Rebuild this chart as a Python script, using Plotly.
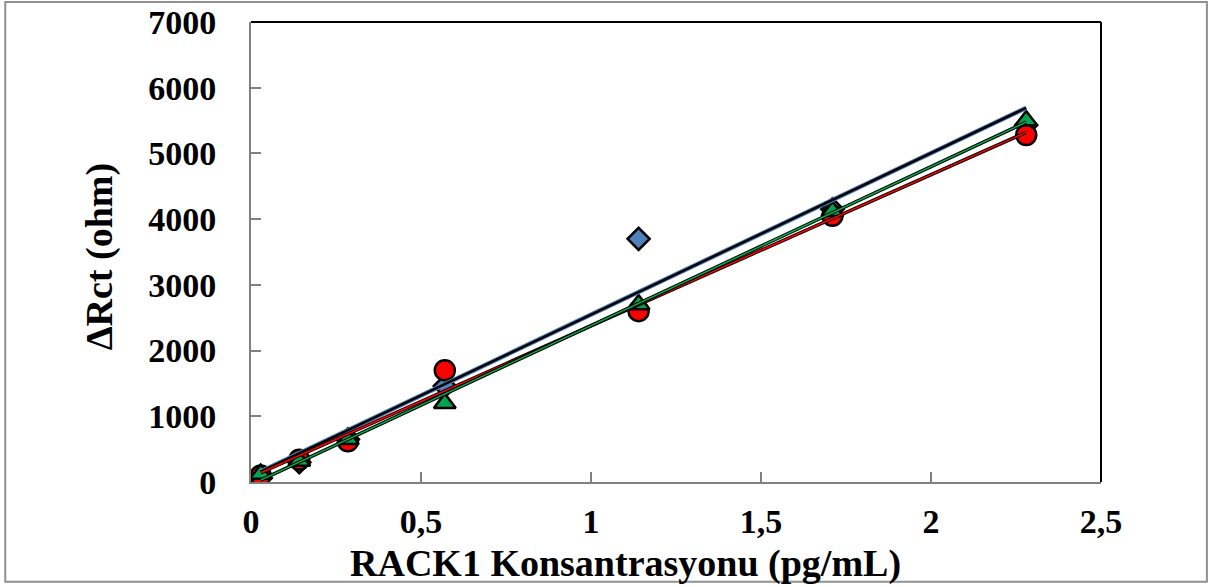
import numpy as np
import plotly.graph_objects as go

# ---- data ----
x_conc = [0.0285, 0.142, 0.285, 0.57, 1.14, 1.71, 2.28]
rct_blue = [60, 300, 650, 1460, 3700, 4150, 5430]
rct_red = [100, 340, 620, 1700, 2600, 4050, 5280]
rct_green = [120, 320, 650, 1200, 2700, 4120, 5500]
x_tickvals = [0, 0.5, 1, 1.5, 2, 2.5]
x_ticktext = ["0", "0,5", "1", "1,5", "2", "2,5"]
y_tickvals = [0, 1000, 2000, 3000, 4000, 5000, 6000, 7000]

FONT = "Liberation Serif"

def trend(xs, ys):
    m, b = np.polyfit(xs, ys, 1)
    xx = np.array([min(xs), max(xs)])
    return xx, m * xx + b

fig = go.Figure()

bx, by = trend(x_conc, rct_blue)
rx, ry = trend(x_conc, rct_red)
gx, gy = trend(x_conc, rct_green)

# markers (drawn beneath the trendlines)
fig.add_trace(go.Scatter(x=x_conc, y=rct_blue, mode="markers", showlegend=False,
                         marker=dict(symbol="diamond", size=17, color="#4F81BD", line=dict(color="#000000", width=2.5))))
fig.add_trace(go.Scatter(x=x_conc, y=rct_red, mode="markers", showlegend=False,
                         marker=dict(symbol="circle", size=20, color="#FF0000", line=dict(color="#000000", width=2.5))))
fig.add_trace(go.Scatter(x=x_conc, y=rct_green, mode="markers", showlegend=False,
                         marker=dict(symbol="triangle-up", size=19, color="#00A550", line=dict(color="#000000", width=2.5))))

# trendlines
fig.add_trace(go.Scatter(x=bx, y=by, mode="lines", line=dict(color="#4F81BD", width=4.5), hoverinfo="skip", showlegend=False))
fig.add_trace(go.Scatter(x=bx, y=by, mode="lines", line=dict(color="#000000", width=2.5), hoverinfo="skip", showlegend=False))
fig.add_trace(go.Scatter(x=rx, y=ry, mode="lines", line=dict(color="#000000", width=3.5), hoverinfo="skip", showlegend=False))
fig.add_trace(go.Scatter(x=rx, y=ry, mode="lines", line=dict(color="#FF0000", width=1.5), hoverinfo="skip", showlegend=False))
fig.add_trace(go.Scatter(x=gx, y=gy, mode="lines", line=dict(color="#000000", width=3.5), hoverinfo="skip", showlegend=False))
fig.add_trace(go.Scatter(x=gx, y=gy, mode="lines", line=dict(color="#00B050", width=1.5), hoverinfo="skip", showlegend=False))

fig.update_layout(
    width=1216, height=587,
    margin=dict(l=251, r=115, t=22, b=105),
    paper_bgcolor="white", plot_bgcolor="white",
    font=dict(family=FONT, size=34, color="black"),
    xaxis=dict(range=[0, 2.5], tickvals=x_tickvals, ticktext=x_ticktext, automargin=False,
               showgrid=False, zeroline=False, showline=True, linecolor="#808080", linewidth=2,
               ticks="inside", ticklen=10, tickcolor="#808080", tickwidth=2, ticklabelstandoff=8,
               tickfont=dict(family=FONT, size=34, color="black", weight="bold")),
    yaxis=dict(range=[0, 7000], tickvals=y_tickvals, automargin=False,
               showgrid=False, zeroline=False, showline=True, linecolor="#808080", linewidth=2,
               ticks="inside", ticklen=10, tickcolor="#808080", tickwidth=2, ticklabelstandoff=26,
               tickfont=dict(family=FONT, size=34, color="black", weight="bold")),
    annotations=[
        dict(text="<b>RACK1 Konsantrasyonu (pg/mL)</b>", xref="paper", yref="paper",
             x=0.44, y=-0.178, xanchor="center", yanchor="middle", showarrow=False,
             font=dict(family=FONT, size=38, color="black")),
        dict(text="<b>ΔRct (ohm)</b>", xref="paper", yref="paper", textangle=-90,
             x=-0.178, y=0.49, xanchor="center", yanchor="middle", showarrow=False,
             font=dict(family=FONT, size=38, color="black")),
    ],
    shapes=[
        dict(type="line", xref="paper", yref="paper", x0=0, x1=1, y0=1, y1=1, line=dict(color="black", width=2)),
        dict(type="line", xref="paper", yref="paper", x0=1, x1=1, y0=0, y1=1, line=dict(color="black", width=2)),
        dict(type="rect", xref="paper", yref="paper", x0=-0.2891, x1=1.1246, y0=-0.2169, y1=1.0434,
             line=dict(color="#909090", width=2), layer="below"),
    ],
)

fig.write_html("out.html")
